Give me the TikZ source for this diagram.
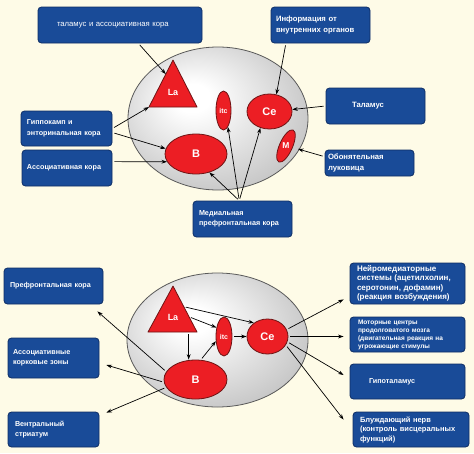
\documentclass[tikz,border=0pt]{standalone}
\usepackage{fontspec}
\setmainfont{Liberation Sans}
\usepackage{tikz}
\usetikzlibrary{arrows.meta,shapes.geometric,calc}
\definecolor{paper}{RGB}{254,251,231}
\definecolor{boxblue}{RGB}{25,75,152}
\definecolor{boxline}{RGB}{14,45,100}
\definecolor{nucred}{RGB}{236,30,36}
\definecolor{nucline}{RGB}{110,20,20}
\pgfdeclareradialshading{brainshade}{\pgfpoint{-8bp}{8bp}}{color(0bp)=(white); color(5bp)=(white); color(50bp)=(black!40)}
\newcommand\fs[2]{\fontsize{#1}{#2}\selectfont}

\begin{document}
\begin{tikzpicture}[x=1pt,y=-1pt,
 box/.style={draw=boxline,line width=0.8pt,fill=boxblue,rounded corners=3.5pt,text=white,align=left,inner ysep=2pt,font=\bfseries\fs{7.2}{10.5}},
 nuc/.style={ellipse,draw=nucline,line width=0.8pt,fill=nucred,text=white,inner sep=0pt},
 tri/.style={draw=nucline,line width=0.8pt,fill=nucred,line join=round},
 brain/.style={shading=brainshade,draw=black!65,line width=0.8pt},
 arr/.style={-{Stealth[length=5.5pt,width=3.8pt]},line width=0.7pt,shorten <=2pt}]
\fill[paper] (0,0) rectangle (474,453);
\useasboundingbox (0,0) rectangle (474,453);

\shadedraw[brain] (218,118.5) ellipse (90 and 71.5);
\coordinate (lat) at (173,60);
\coordinate (lal) at (149,107);
\coordinate (lar) at (197,107);
\draw[tri] (lat) -- (lal) -- (lar) -- cycle;
\node[text=white,font=\bfseries\fs{9}{10}] (la) at (173,92) {La};
\node[nuc,minimum width=15pt,minimum height=39pt,font=\bfseries\fs{7}{8}] (itc) at (223.5,110.5) {itc};
\node[nuc,minimum width=45pt,minimum height=35pt,font=\bfseries\fs{11}{12}] (ce) at (269.5,111.5) {Ce};
\node[nuc,minimum width=62pt,minimum height=40pt,font=\bfseries\fs{11}{12}] (b) at (196,154) {B};
\draw[tri,rotate around={66:(286,146)}] (286,146) ellipse (17.5 and 6.5);
\node[text=white,font=\bfseries\fs{8.5}{9}] (m) at (286,146) {M};
\coordinate (mtip) at (298,149);

\node[box,font=\fs{7.7}{10.5},text width=126pt,inner xsep=19pt,minimum height=36pt] (thal) at (120,25) {таламус и ассоциативная кора};
\node[box,font=\bfseries\fs{7.7}{10.5},text width=89pt,inner xsep=5pt,minimum height=36pt] (info) at (320.5,25) {Информация от\\внутренних органов};
\node[box,text width=79pt,inner xsep=6pt,minimum height=35pt] (hip) at (66.5,128.5) {Гиппокамп и\\энторинальная кора};
\node[box,text width=80pt,inner xsep=5pt,minimum height=36pt] (assoc) at (67,168) {Ассоциативная кора};
\node[box,font=\bfseries\fs{7.7}{10.5},text width=47pt,inner xsep=26pt,minimum height=36pt] (thalr) at (375.5,106) {Таламус};
\node[box,font=\bfseries\fs{7.7}{10.5},text width=83pt,inner xsep=3pt,minimum height=26pt] (olf) at (369.5,163) {Обонятельная\\луковица};
\node[box,text width=87pt,inner xsep=6pt,minimum height=36pt] (mpfc) at (242.5,219) {Медиальная\\префронтальная кора};

\draw[arr] (thal.-45) -- ($(lat)!0.3!(lal)$);
\draw[arr] (hip.east) -- (lal);
\draw[arr] (hip.-5) -- (b.170);
\draw[arr] (assoc.8) -- (b.195);
\draw[arr] (info.208) -- (ce.68);
\draw[arr] (thalr.west) -- (ce.5);
\draw[arr] (olf.172) -- (mtip);
\foreach \t in {b.-54,itc.-75,ce.-119}
 \draw[arr] (mpfc.100) -- (\t);

\shadedraw[brain] (217.5,340) ellipse (90.5 and 67);
\coordinate (lbt) at (173,286);
\coordinate (lbl) at (148,332);
\coordinate (lbr) at (197,332);
\draw[tri] (lbt) -- (lbl) -- (lbr) -- cycle;
\node[text=white,font=\bfseries\fs{9}{10}] (la2) at (173,317) {La};
\node[nuc,minimum width=16pt,minimum height=39pt,font=\bfseries\fs{7}{8}] (itc2) at (224,336.5) {itc};
\node[nuc,minimum width=41pt,minimum height=35pt,font=\bfseries\fs{11}{12}] (ce2) at (267.5,336.5) {Ce};
\node[nuc,minimum width=63pt,minimum height=39pt,font=\bfseries\fs{11}{12}] (b2) at (195.5,379.5) {B};
\coordinate (lbs) at ($(lbl)!0.83!(lbr)$);

\node[box,text width=87pt,inner xsep=6pt,minimum height=36pt] (pfc) at (53.5,286) {Префронтальная кора};
\node[box,text width=81pt,inner xsep=5pt,minimum height=40pt] (assoc2) at (53.5,358) {Ассоциативные\\корковые зоны};
\node[box,text width=77pt,inner xsep=7pt,minimum height=35pt] (vstr) at (53.5,429.5) {Вентральный\\стриатум};
\node[box,font=\bfseries\fs{8}{9.5},text width=101pt,inner xsep=7pt,minimum height=41pt] (nmed) at (407.5,283.5) {Нейромедиаторные\\системы (ацетилхолин,\\серотонин, дофамин)\\(реакция возбуждения)};
\node[box,font=\bfseries\fs{6.5}{8},text width=99pt,inner xsep=8pt,minimum height=35pt] (motor) at (407.5,334.5) {Моторные центры\\продолговатого мозга\\(двигательная реакция на\\угрожающие стимулы};
\node[box,text width=77pt,inner xsep=19pt,minimum height=35pt] (hypo) at (407.5,381.5) {Гипоталамус};
\node[box,font=\bfseries\fs{7.5}{9.5},text width=102pt,inner xsep=7pt,minimum height=35pt] (vagus) at (411,429.5) {Блуждающий нерв\\(контроль висцеральных\\функций)};

\draw[arr] ($(lbt)!0.45!(lbr)$) -- (ce2.135);
\draw[arr] ($(lbt)!0.67!(lbr)$) -- (itc2.130);
\draw[arr] (itc2.east) -- (ce2.west);
\draw[arr] (lbs) -- (lbs |- b2.north);
\draw[arr] (b2.75) -- (itc2.210);
\draw[arr] (b2.165) -- ($(pfc.south east)+(-6,7)$);
\draw[arr] (b2.185) -- ($(assoc2.east)+(7,7)$);
\draw[arr] (b2.195) -- ($(vstr.north east)+(7,1)$);
\draw[arr] (ce2.20) -- ($(nmed.south west)+(-6,-5)$);
\draw[arr] (ce2.east) -- ($(motor.west)+(-6,2)$);
\draw[arr] (ce2.-15) -- ($(hypo.west)+(-6,-6.5)$);
\draw[arr] (ce2.-25) -- ($(vagus.north west)+(-9,8)$);
\end{tikzpicture}
\end{document}
